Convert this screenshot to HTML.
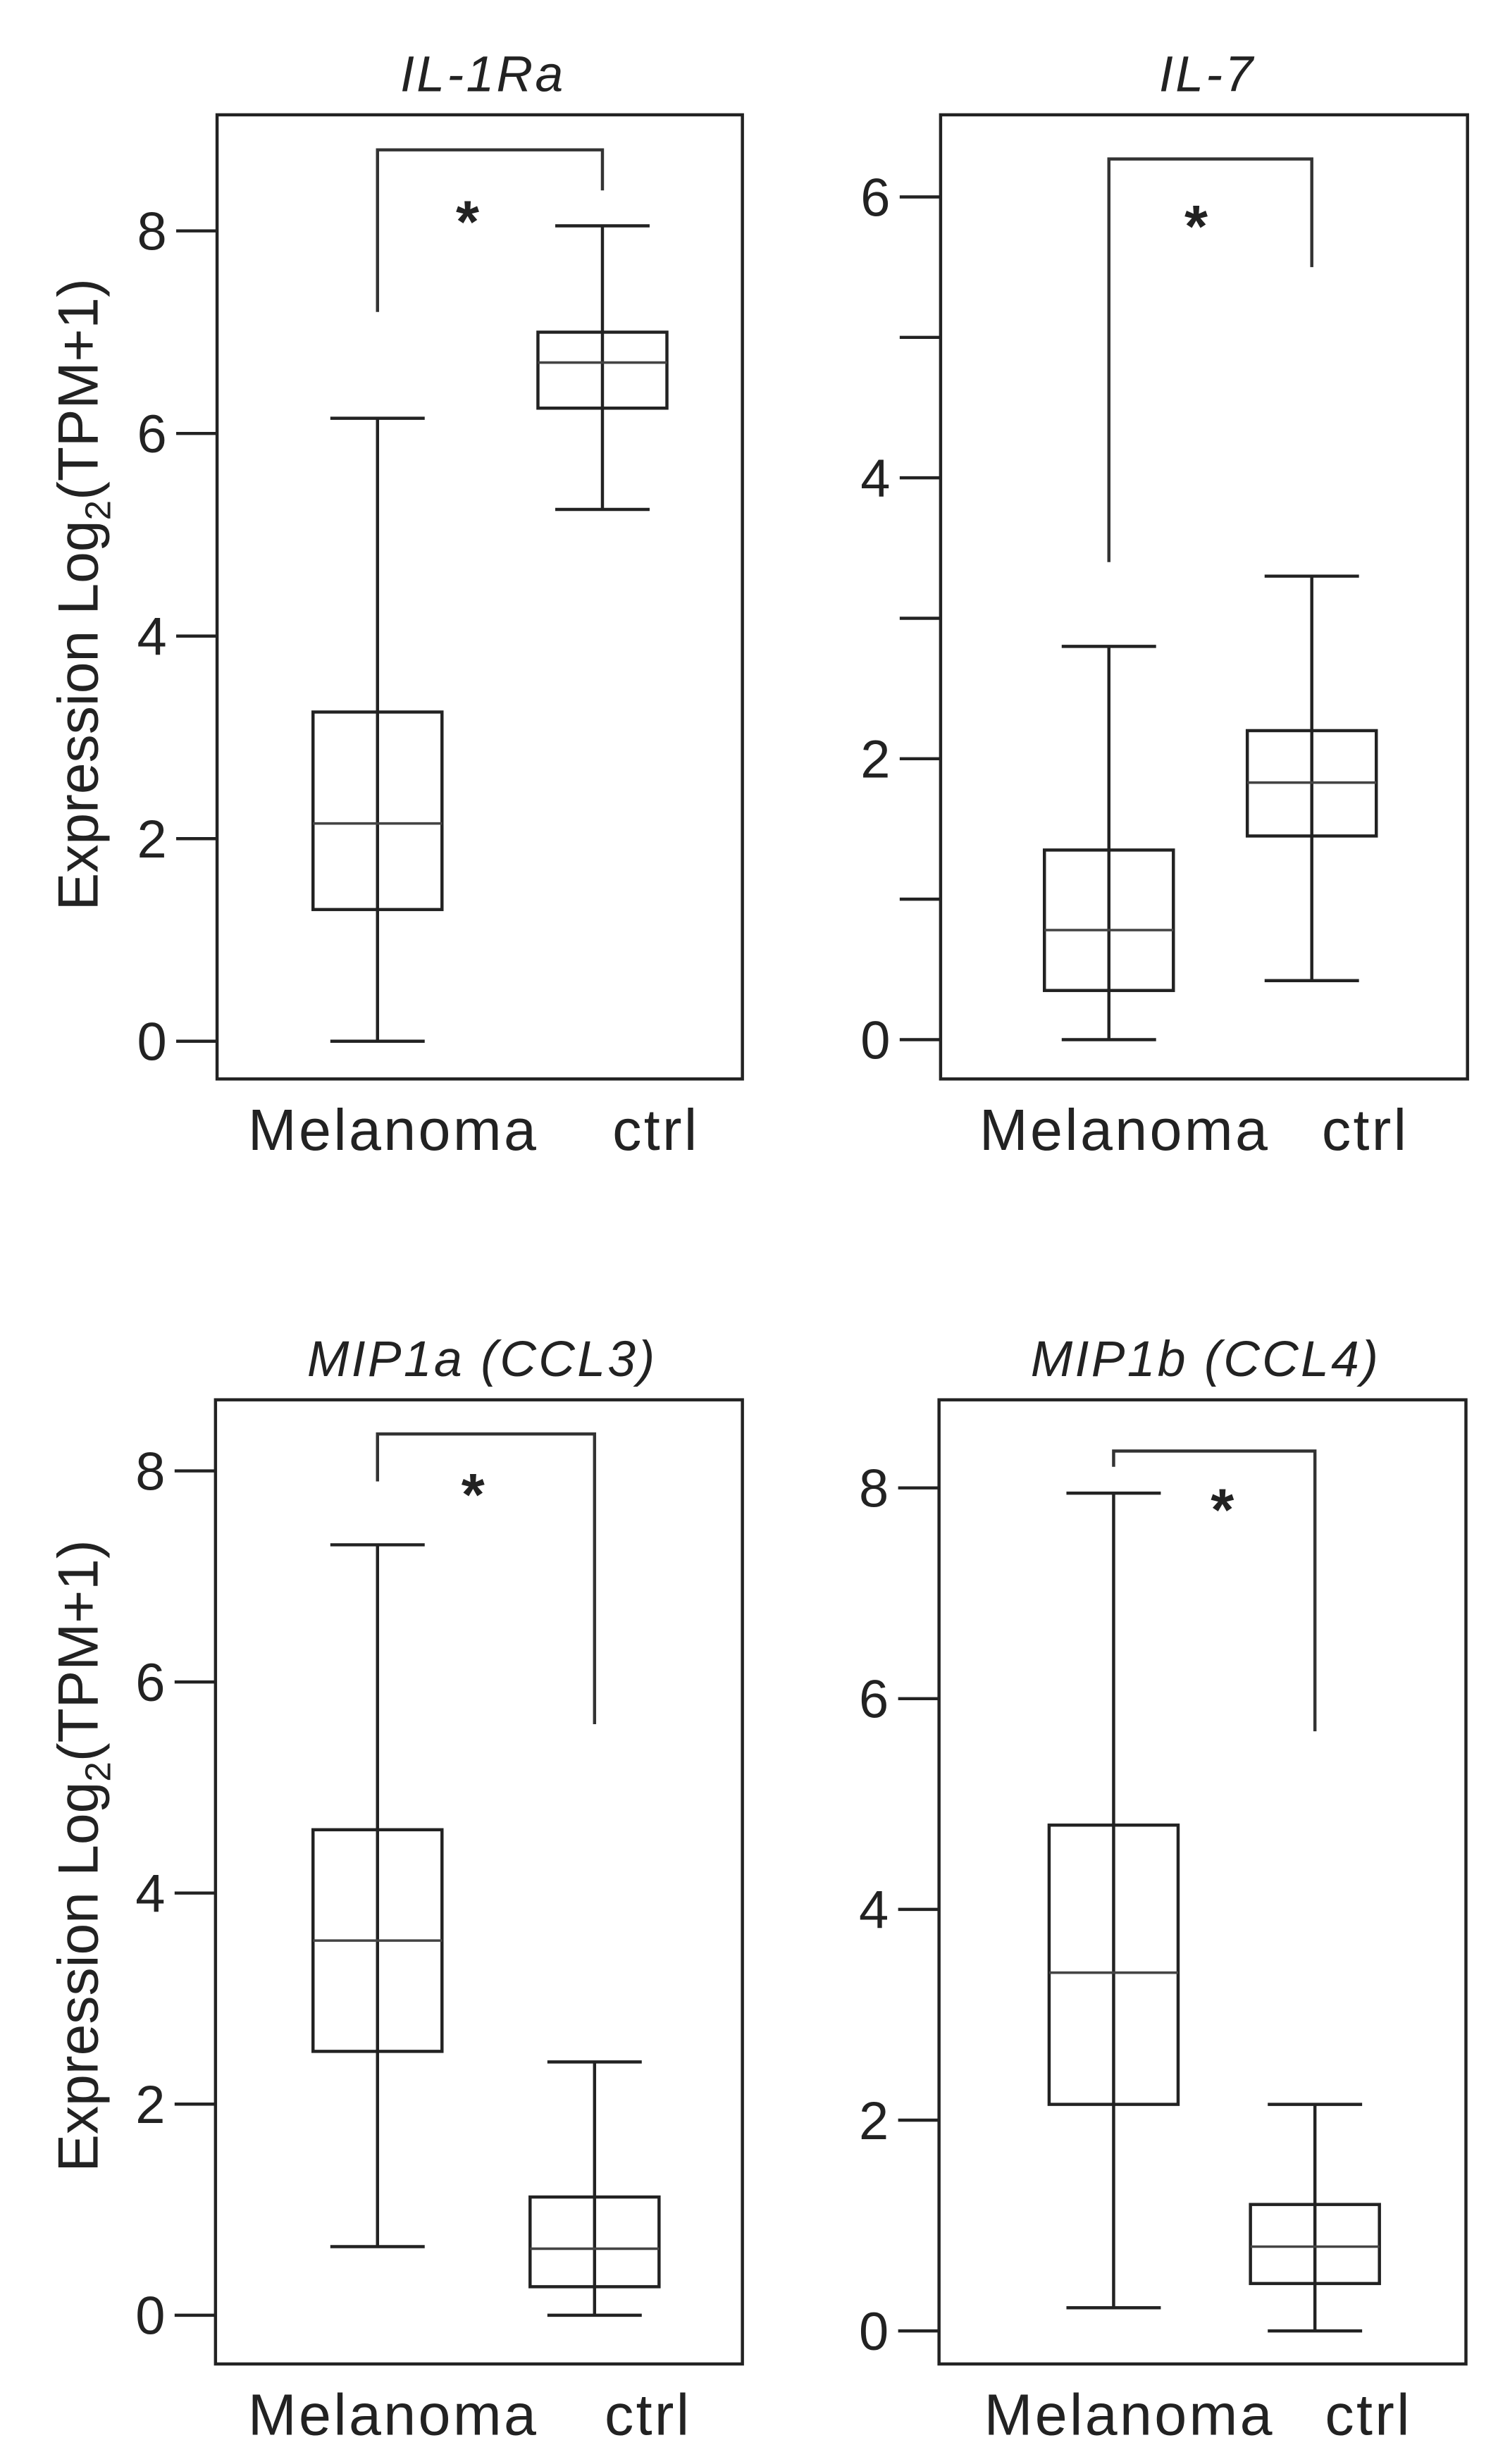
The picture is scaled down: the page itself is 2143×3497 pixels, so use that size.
<!DOCTYPE html>
<html><head><meta charset="utf-8"><style>
html,body{margin:0;padding:0;background:#fff;}
svg{display:block;}
text{font-family:"Liberation Sans","DejaVu Sans",sans-serif;fill:#222;}
</style></head><body>
<svg id="chart" width="2143" height="3497" viewBox="0 0 960 1566.6" xmlns="http://www.w3.org/2000/svg"></svg>
<script>
// Data
const panelTitles = ["IL-1Ra", "IL-7", "MIP1a (CCL3)", "MIP1b (CCL4)"];
const categories = ["Melanoma", "ctrl"];
const whiskerLow  = [[0, 5.25], [0, 0.42], [0.65, 0], [0.22, 0]];
const q1Values    = [[1.3, 6.25], [0.35, 1.45], [2.5, 0.27], [2.15, 0.45]];
const medianValues= [[2.15, 6.7], [0.78, 1.83], [3.55, 0.63], [3.4, 0.8]];
const q3Values    = [[3.25, 7.0], [1.35, 2.2], [4.6, 1.12], [4.8, 1.2]];
const whiskerHigh = [[6.15, 8.05], [2.8, 3.3], [7.3, 2.4], [7.95, 2.15]];
const bracketLeftStart  = [7.2, 3.4, 7.9, 8.2];
const bracketTop        = [8.8, 6.27, 8.35, 8.35];
const bracketRightEnd   = [8.4, 5.5, 5.6, 5.69];
const starValue         = [8.2, 5.87, 7.88, 7.9];
const starFraction      = [0.40, 0.43, 0.44, 0.54];
const tickValues  = [[0,2,4,6,8],[0,1,2,3,4,5,6],[0,2,4,6,8],[0,2,4,6,8]];
const tickLabels  = [["0","2","4","6","8"],["0","","2","","4","","6"],["0","2","4","6","8"],["0","2","4","6","8"]];

// Layout (pixels in 960-wide viewBox)
const frames = [
  {x0:138,x1:472,y0:73,y1:686,zeroY:662,unit:64.4,cx:[240,383]},
  {x0:598,x1:933,y0:73,y1:686,zeroY:661,unit:89.3,cx:[705,834]},
  {x0:137,x1:472,y0:890,y1:1503,zeroY:1472,unit:67.1,cx:[240,378]},
  {x0:597,x1:932,y0:890,y1:1503,zeroY:1482,unit:67.0,cx:[708,836]}
];
const svg = document.getElementById('chart');
const NS = 'http://www.w3.org/2000/svg';
function mk(tag, attrs, parent){const e=document.createElementNS(NS,tag);for(const k in attrs)e.setAttribute(k,attrs[k]);parent.appendChild(e);return e;}

frames.forEach((f,p)=>{
  const yS = v => f.zeroY - v*f.unit;
  const g = mk('g',{},svg);
  
  
  const fr = mk('rect',{x:f.x0,y:f.y0,width:f.x1-f.x0,height:f.y1-f.y0,fill:'none',stroke:'#222','stroke-width':2},g);
  
  
  const t = mk('text',{x:(f.x0+f.x1)/2+2,y:f.y0-15,'font-size':32,'font-style':'italic','text-anchor':'middle','letter-spacing':1.5},g);
  t.textContent = panelTitles[p];
  
  
  tickValues[p].forEach((v,i)=>{
    const y=yS(v);
    const tk = mk('line',{x1:f.x0-26,x2:f.x0,y1:y,y2:y,stroke:'#222','stroke-width':2},g);
    
    
    if(tickLabels[p][i]){
      const tl = mk('text',{x:f.x0-32,y:y+12,'font-size':34,'text-anchor':'end'},g);
      tl.textContent = tickLabels[p][i];
      
      
    }
  });
  categories.forEach((c,j)=>{
    const cx=f.cx[j], hw=41, cw=30;
    const bg = mk('g',{},g);
    
    
    mk('line',{x1:cx,x2:cx,y1:yS(whiskerLow[p][j]),y2:yS(whiskerHigh[p][j]),stroke:'#222','stroke-width':2},bg);
    mk('line',{x1:cx-cw,x2:cx+cw,y1:yS(whiskerLow[p][j]),y2:yS(whiskerLow[p][j]),stroke:'#222','stroke-width':2},bg);
    mk('line',{x1:cx-cw,x2:cx+cw,y1:yS(whiskerHigh[p][j]),y2:yS(whiskerHigh[p][j]),stroke:'#222','stroke-width':2},bg);
    mk('rect',{x:cx-hw,y:yS(q3Values[p][j]),width:2*hw,height:yS(q1Values[p][j])-yS(q3Values[p][j]),fill:'none',stroke:'#222','stroke-width':2},bg);
    mk('line',{x1:cx-hw,x2:cx+hw,y1:yS(medianValues[p][j]),y2:yS(medianValues[p][j]),stroke:'#444','stroke-width':1.6},bg);
  });
  const xl1 = mk('text',{x:f.cx[0]+10,y:f.y1+45,'font-size':37,'text-anchor':'middle','letter-spacing':1.5},g);
  xl1.textContent = categories[0];
  
  
  const xl2 = mk('text',{x:f.cx[1]+34,y:f.y1+45,'font-size':37,'text-anchor':'middle','letter-spacing':1.5},g);
  xl2.textContent = categories[1];
  
  
  const br = mk('polyline',{points:`${f.cx[0]},${yS(bracketLeftStart[p])} ${f.cx[0]},${yS(bracketTop[p])} ${f.cx[1]},${yS(bracketTop[p])} ${f.cx[1]},${yS(bracketRightEnd[p])}`,fill:'none',stroke:'#333','stroke-width':2},g);
  
  
  const sx = f.cx[0] + starFraction[p]*(f.cx[1]-f.cx[0]);
  const st = mk('text',{x:sx,y:yS(starValue[p])+20,'font-size':38,'font-weight':'bold','text-anchor':'middle'},g);
  st.textContent='*';
  
  
});
[378,1180].forEach(cy=>{
  const yt = mk('text',{x:0,y:0,'font-size':36,'text-anchor':'middle',transform:`translate(62,${cy}) rotate(-90)`},svg);
  
  
  yt.appendChild(document.createTextNode('Expression  Log'));
  const s = mk('tspan',{'font-size':23,dy:8},yt); s.textContent='2';
  const r = mk('tspan',{dy:-8},yt); r.textContent='(TPM+1)';
});
</script>
</body></html>
